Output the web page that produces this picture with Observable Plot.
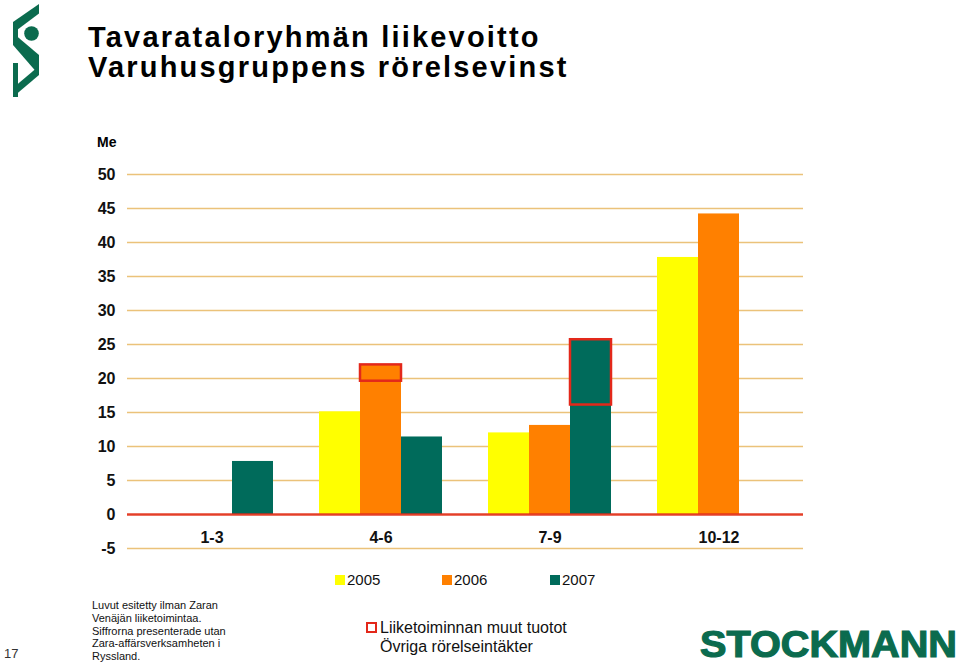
<!DOCTYPE html>
<html>
<head>
<meta charset="utf-8">
<script src="https://cdn.jsdelivr.net/npm/d3@7"></script>
<script src="https://cdn.jsdelivr.net/npm/@observablehq/plot@0.6"></script>
<style>
  html, body { margin: 0; padding: 0; background: #fff; }
  #page { position: relative; width: 960px; height: 665px; overflow: hidden; font-family: "Liberation Sans", Arial, sans-serif; color: #000; }
  .abs { position: absolute; white-space: nowrap; }
  #title { left: 88px; top: 22px; font-size: 29px; font-weight: bold; letter-spacing: 2.2px; line-height: 30px; }
  #unit { left: 97px; top: 134px; font-size: 14px; font-weight: bold; }
  #chart { left: 0; top: 120px; }
  .leg { font-size: 15px; color: #111; }
  .sw { position: absolute; width: 10px; height: 10px; }
  #notes { left: 92px; top: 599px; font-size: 11px; line-height: 12.8px; color: #111; }
  #pagenum { left: 4px; top: 646px; font-size: 13px; color: #333; }
  #other { left: 380px; top: 618px; font-size: 16px; line-height: 19px; color: #111; }
  #otherbox { left: 366px; top: 622px; width: 7px; height: 7px; border: 2px solid #E3281A; }
</style>
</head>
<body>
<div id="page">
  <svg class="abs" style="left:0;top:0" width="60" height="105" viewBox="0 0 60 105">
    <g fill="#0B6B4E">
      <polygon points="39,4 39,13.5 13,33 13,22"/>
      <rect x="13" y="22" width="5" height="23"/>
      <polygon points="13,33 13,45 39,75 39,55"/>
      <polygon points="39,66 39,75 13,97 13,88"/>
      <rect x="13" y="63" width="5" height="34"/>
      <circle cx="31.5" cy="33.5" r="7.3"/>
    </g>
  </svg>
  <div id="title" class="abs">Tavarataloryhmän liikevoitto<br>Varuhusgruppens rörelsevinst</div>
  <div id="unit" class="abs">Me</div>
  <div id="chart" class="abs"></div>
  <div id="legend"></div>
  <div id="notes" class="abs">Luvut esitetty ilman Zaran<br>Venäjän liiketoimintaa.<br>Siffrorna presenterade utan<br>Zara-affärsverksamheten i<br>Ryssland.</div>
  <div id="pagenum" class="abs">17</div>
  <div id="otherbox" class="abs"></div>
  <div id="other" class="abs">Liiketoiminnan muut tuotot<br>Övriga rörelseintäkter</div>
  <svg class="abs" style="left:690px;top:620px" width="270" height="45">
    <text x="10" y="37" font-family="Liberation Sans, Arial, sans-serif" font-weight="bold" font-size="37" fill="#0B6B4E" stroke="#0B6B4E" stroke-width="1.2" textLength="257" lengthAdjust="spacingAndGlyphs">STOCKMANN</text>
  </svg>
</div>
<script>
// ---- data ----
const categories = ["1-3", "4-6", "7-9", "10-12"];
const years = ["2005", "2006", "2007"];
const values2005 = [0, 15.1, 12.0, 37.8];
const values2006 = [0, 22.0, 13.1, 44.2];
const values2007 = [7.8, 11.4, 25.7, null];
const yTicks = [-5, 0, 5, 10, 15, 20, 25, 30, 35, 40, 45, 50];
// "Liiketoiminnan muut tuotot" portions (outlined)
const otherCategory = ["4-6", "7-9"];
const otherYear = ["2006", "2007"];
const otherFrom = [19.6, 16.1];
const otherTo = [22.0, 25.7];

const yearColors = ["#FFFF00", "#FF8000", "#006B5B"];
const gridColor = "#EBC27A";
const red = "#E3281A";

const seriesByYear = [values2005, values2006, values2007];
const rows = [];
years.forEach((yr, i) => categories.forEach((c, j) => {
  const v = seriesByYear[i][j];
  if (v != null) rows.push({cat: c, year: yr, value: v});
}));
const other = otherCategory.map((c, i) => ({cat: c, year: otherYear[i], from: otherFrom[i], to: otherTo[i]}));

// ---- legend (HTML) ----
const legend = document.getElementById("legend");
const legendX = [335, 442, 550];
years.forEach((yr, i) => {
  const sw = document.createElement("div");
  sw.className = "sw";
  sw.style.left = legendX[i] + "px"; sw.style.top = "575px"; sw.style.background = yearColors[i];
  legend.appendChild(sw);
  const t = document.createElement("div");
  t.className = "abs leg";
  t.style.left = (legendX[i] + 12) + "px"; t.style.top = "571px";
  t.textContent = yr;
  legend.appendChild(t);
});

// ---- chart ----
const chart = Plot.plot({
  width: 960,
  height: 450,
  marginTop: 54,
  marginBottom: 22,
  marginLeft: 125,
  marginRight: 156,
  style: {fontFamily: "Liberation Sans, Arial, sans-serif", fontSize: "16px", fontWeight: "bold", color: "#111", background: "transparent"},
  fx: {domain: categories, paddingInner: 0, paddingOuter: 0, axis: "bottom", tickSize: 0, tickPadding: -17, label: null},
  x: {domain: years, paddingInner: 0, paddingOuter: 0.52, axis: null},
  y: {domain: [-5, 50], ticks: yTicks, tickSize: 0, tickPadding: 12, tickFormat: d => String(d), label: null, grid: false},
  color: {domain: years, range: yearColors},
  marks: [
    Plot.ruleY(yTicks, {stroke: gridColor, strokeWidth: 1.6}),
    Plot.barY(rows, {fx: "cat", x: "year", y: "value", fill: "year"}),
    Plot.ruleY([0], {stroke: red, strokeWidth: 2.5, strokeOpacity: 0.85}),
    Plot.barY(other, {fx: "cat", x: "year", y1: "from", y2: "to", fill: "none", stroke: red, strokeWidth: 2.5})
  ]
});
document.getElementById("chart").appendChild(chart);
</script>
</body>
</html>
